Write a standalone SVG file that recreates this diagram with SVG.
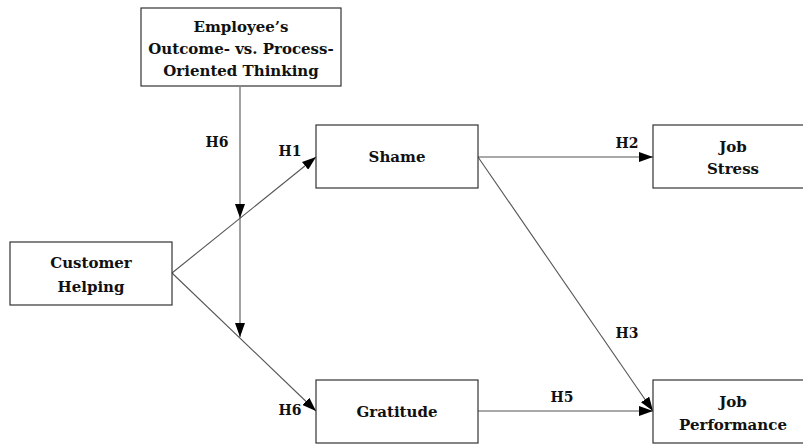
<svg xmlns="http://www.w3.org/2000/svg" width="803" height="444" viewBox="0 0 803 444">
<style>
.box{fill:#fff;stroke:#333;stroke-width:1.2}
.t{font-family:"DejaVu Serif","Liberation Serif",serif;font-weight:bold;font-size:15px;fill:#111;text-anchor:middle}
.lbl{font-family:"DejaVu Serif","Liberation Serif",serif;font-weight:bold;font-size:14px;fill:#111;text-anchor:middle}
.c{stroke:#555;stroke-width:1.1;fill:none;marker-end:url(#ah)}
</style>
<defs>
<marker id="ah" markerUnits="userSpaceOnUse" markerWidth="14" markerHeight="10" refX="14" refY="5" orient="auto">
<path d="M0,0 L14,5 L0,10 Z" fill="#000"/>
</marker>
</defs>
<rect width="803" height="444" fill="#fff"/>
<g id="connectors">
<line class="c" x1="172" y1="273" x2="316" y2="157"/>
<line class="c" x1="172" y1="273" x2="316" y2="411"/>
<line class="c" x1="478" y1="157" x2="653" y2="157"/>
<line class="c" x1="478" y1="157" x2="653" y2="411"/>
<line class="c" x1="478" y1="411" x2="653" y2="411"/>
<line class="c" x1="240" y1="87" x2="240" y2="218"/>
<line class="c" x1="240" y1="218" x2="240" y2="337"/>
<text class="lbl" x="217" y="147">H6</text>
<text class="lbl" x="290" y="156">H1</text>
<text class="lbl" x="627" y="148">H2</text>
<text class="lbl" x="627" y="338">H3</text>
<text class="lbl" x="562" y="402">H5</text>
<text class="lbl" x="290" y="415">H6</text>
</g>
<g id="moderator">
<rect class="box" x="141" y="8" width="200" height="78"/>
<text class="t" x="241" y="32">Employee’s</text>
<text class="t" x="241" y="54">Outcome- vs. Process-</text>
<text class="t" x="241" y="76">Oriented Thinking</text>
</g>
<g id="customer-helping">
<rect class="box" x="10" y="242" width="162" height="63"/>
<text class="t" x="91" y="268">Customer</text>
<text class="t" x="91" y="292">Helping</text>
</g>
<g id="shame">
<rect class="box" x="316" y="125" width="162" height="63"/>
<text class="t" x="397" y="162">Shame</text>
</g>
<g id="job-stress">
<rect class="box" x="653" y="125" width="160" height="63"/>
<text class="t" x="733" y="152">Job</text>
<text class="t" x="733" y="174">Stress</text>
</g>
<g id="gratitude">
<rect class="box" x="316" y="380" width="162" height="63"/>
<text class="t" x="397" y="417">Gratitude</text>
</g>
<g id="job-performance">
<rect class="box" x="653" y="380" width="160" height="63"/>
<text class="t" x="733" y="407">Job</text>
<text class="t" x="733" y="430">Performance</text>
</g>
</svg>
